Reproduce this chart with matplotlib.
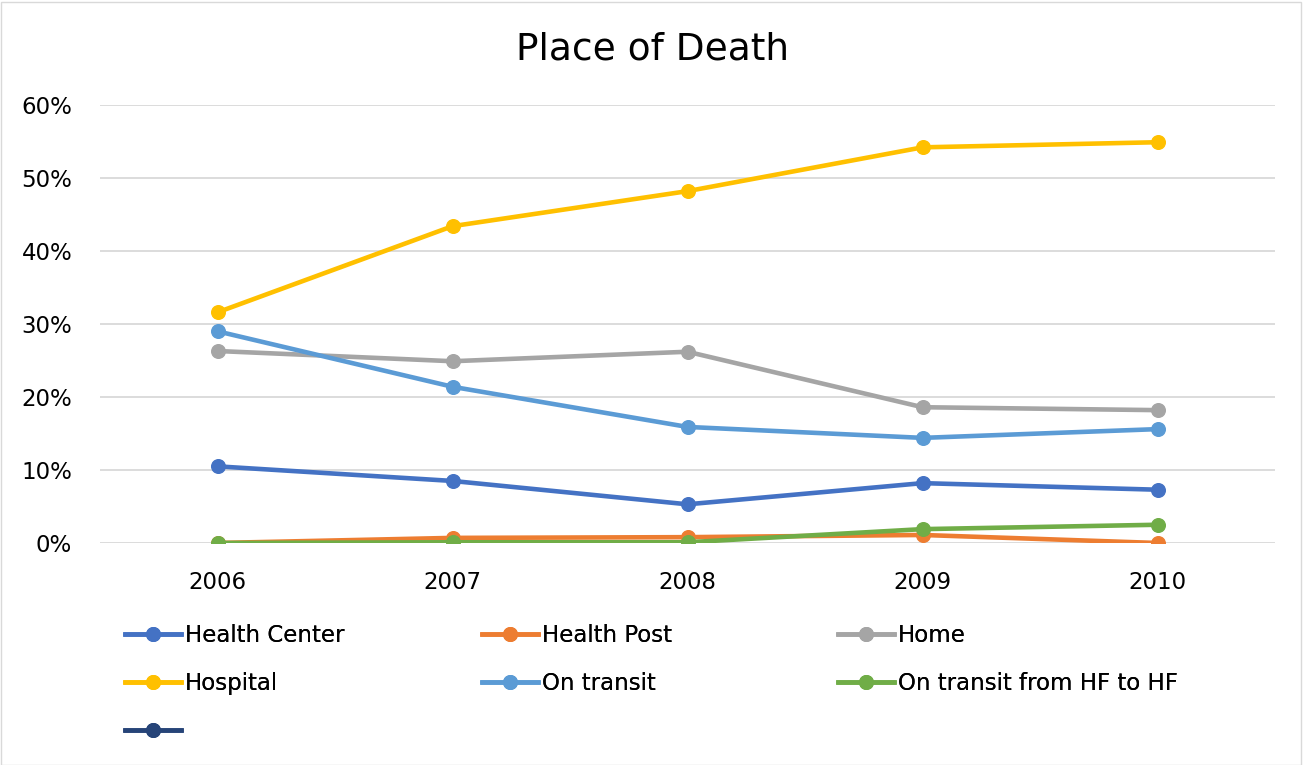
import matplotlib
matplotlib.use('Agg')
import matplotlib.pyplot as plt
from matplotlib.lines import Line2D
from matplotlib.patches import Rectangle
from matplotlib.ticker import PercentFormatter

plt.rcParams['font.family'] = ['DejaVu Sans']

years = ['2006', '2007', '2008', '2009', '2010']
health_center = [10.5, 8.5, 5.3, 8.2, 7.3]
health_post = [0.0, 0.7, 0.8, 1.1, 0.0]
home = [26.3, 24.9, 26.2, 18.6, 18.2]
hospital = [31.6, 43.4, 48.2, 54.2, 54.9]
on_transit = [29.0, 21.4, 15.9, 14.4, 15.6]
on_transit_hf = [0.0, 0.1, 0.1, 1.9, 2.5]

series = [
    ('Health Center', health_center, '#4472C4'),
    ('Health Post', health_post, '#ED7D31'),
    ('Home', home, '#A5A5A5'),
    ('Hospital', hospital, '#FFC000'),
    ('On transit', on_transit, '#5B9BD5'),
    ('On transit from HF to HF', on_transit_hf, '#70AD47'),
]

fig = plt.figure(figsize=(13.04, 7.65), dpi=100)
ax = fig.add_axes([100 / 1304, 1 - 543 / 765, 1175 / 1304, 438 / 765])

x = list(range(len(years)))
for name, vals, color in series:
    ax.plot(x, vals, color=color, lw=3.3, marker='o', ms=9.8, label=name,
            solid_capstyle='round')

ax.set_xlim(-0.5, len(years) - 0.5)
ax.set_ylim(0, 60)
ax.set_yticks([0, 10, 20, 30, 40, 50, 60])
ax.yaxis.set_major_formatter(PercentFormatter(decimals=0))
ax.set_xticks(x)
ax.set_xticklabels(years)
ax.tick_params(axis='both', length=0, labelsize=16.5)
ax.tick_params(axis='y', pad=20)
ax.tick_params(axis='x', pad=20)
ax.grid(axis='y', color='#D9D9D9', lw=1.3)
ax.set_axisbelow(True)
for s in ax.spines.values():
    s.set_visible(False)

fig.text(652 / 1304, 1 - 49 / 765, 'Place of Death', ha='center', va='center',
         fontsize=27)


def handle(color):
    return Line2D([], [], color=color, lw=3.3, marker='o', ms=9.8)


cols = [
    ([series[0], series[3], ('', None, '#264478')], 125),
    ([series[1], series[4]], 482),
    ([series[2], series[5]], 838),
]
for items, xpos in cols:
    leg = fig.legend([handle(c) for _, _, c in items], [n for n, _, _ in items],
                     loc='upper left', bbox_to_anchor=(xpos / 1304, 1 - 624 / 765),
                     frameon=False, fontsize=16.5, borderpad=0, borderaxespad=0,
                     handlelength=2.45, handletextpad=0.15, labelspacing=1.1)
    fig.add_artist(leg)

fig.add_artist(Rectangle((0.5 / 1304, 0.5 / 765), 1 - 3.5 / 1304, 1 - 2 / 765,
                         transform=fig.transFigure, fill=False,
                         edgecolor='#D9D9D9', lw=1))

fig.savefig('out.png', dpi=100)
